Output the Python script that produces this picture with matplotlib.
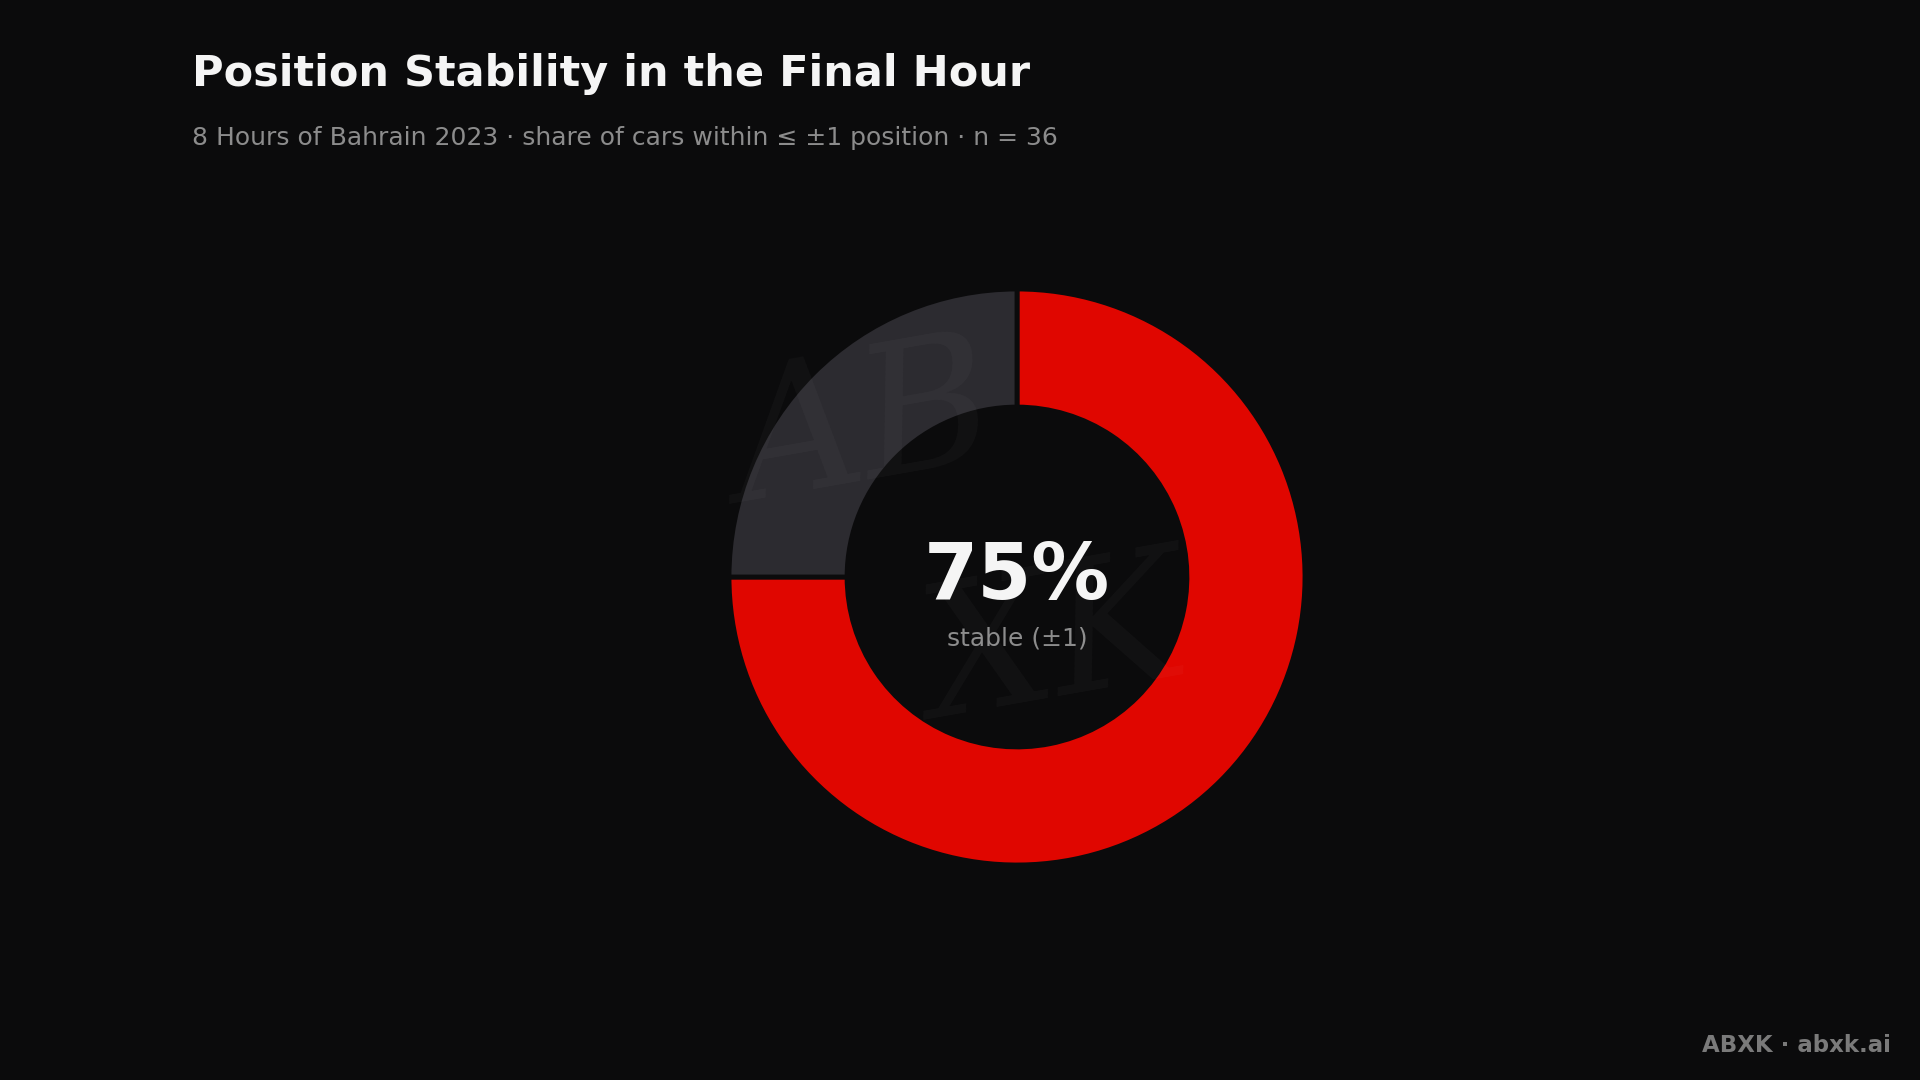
import matplotlib
matplotlib.use("Agg")
import matplotlib.pyplot as plt

# data
labels = ["stable (±1)", "moved > 1"]
counts = [27, 9]
n_cars = 36
colors = ["#e00600", "#2c2b30"]

title = "Position Stability in the Final Hour"
subtitle = "8 Hours of Bahrain 2023 · share of cars within ≤ ±1 position · n = 36"
footer = "ABXK · abxk.ai"

BG = "#0b0b0c"
W, H = 1920, 1080

fig = plt.figure(figsize=(W / 100, H / 100), dpi=100, facecolor=BG)

# donut axes placed in pixels
cx, cy, r = 1017, 577, 288
ax = fig.add_axes([(cx - r) / W, (H - cy - r) / H, 2 * r / W, 2 * r / H])
ax.set_facecolor(BG)
ax.pie(counts, colors=colors, startangle=90, counterclock=False, radius=1.0,
       wedgeprops=dict(width=0.41, edgecolor=BG, linewidth=3.5))
ax.set_xlim(-1, 1)
ax.set_ylim(-1, 1)
ax.set_aspect("equal")
ax.axis("off")

share = counts[0] / n_cars * 100
ax.text(0, 0.0, f"{share:.0f}%", ha="center", va="center", color="#f5f5f5",
        fontsize=56, fontweight="bold")
ax.text(0, -0.215, labels[0], ha="center", va="center", color="#8c8c8c", fontsize=18)

# faint watermark, signature-like
fig.text(0.45, 0.60, "AB", ha="center", va="center", color="white", alpha=0.03,
         fontsize=130, style="italic", family="DejaVu Serif", rotation=10)
fig.text(0.55, 0.40, "XK", ha="center", va="center", color="white", alpha=0.03,
         fontsize=130, style="italic", family="DejaVu Serif", rotation=10)

fig.text(192 / W, 1 - 74 / H, title, ha="left", va="center", color="#f5f5f5",
         fontsize=31, fontweight="bold")
fig.text(192 / W, 1 - 138 / H, subtitle, ha="left", va="center", color="#8c8c8c",
         fontsize=18)
fig.text(1891 / W, 1 - 1045 / H, footer, ha="right", va="center", color="#7a7a7a",
         fontsize=16.5, fontweight="bold")

fig.savefig("out.png", dpi=100, facecolor=BG)
